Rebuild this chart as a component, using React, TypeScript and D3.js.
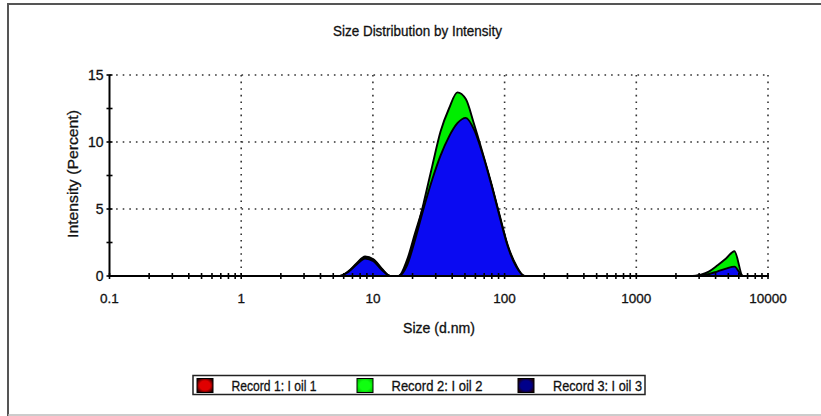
import React from "react";
import * as d3 from "d3";

// size bins (d.nm) from the instrument, only the part where anything happens
const sizes = [
  4.187, 4.849, 5.615, 6.503, 7.531, 8.721, 10.1, 11.7, 13.54, 15.69,
  18.17, 21.04, 24.36, 28.21, 32.67, 37.84, 43.82, 50.75, 58.77, 68.06,
  78.82, 91.28, 105.7, 122.4, 141.8, 164.2, 190.1, 220.2, 255.0, 295.3,
  342.0, 396.1, 458.7, 531.2, 615.1, 712.4, 825.0, 955.4, 1106, 1281,
  1484, 1718, 1990, 2305, 2669, 3091, 3580, 4145, 4801, 5560,
  6439, 7456, 8635, 10000,
];

const record1 = [
  0, 0, 0, 0.35, 0.95, 1.45, 1.25, 0.55, 0, 0,
  1.2, 3.3, 5.3, 7.3, 9.0, 10.3, 11.2, 11.5, 10.8, 9.0,
  6.9, 4.5, 2.2, 0.7, 0, 0, 0, 0, 0, 0,
  0, 0, 0, 0, 0, 0, 0, 0, 0, 0,
  0, 0, 0, 0, 0, 0.05, 0.1, 0.2, 0.35, 0.45,
  0, 0, 0, 0,
];

const record2 = [
  0, 0, 0, 0.3, 0.9, 1.4, 1.2, 0.5, 0, 0,
  0.9, 3.0, 5.5, 8.2, 10.8, 12.5, 13.7, 13.2, 11.3, 9.2,
  7.0, 4.6, 2.3, 0.8, 0, 0, 0, 0, 0, 0,
  0, 0, 0, 0, 0, 0, 0, 0, 0, 0,
  0, 0, 0, 0, 0, 0.1, 0.35, 0.8, 1.3, 1.85,
  0, 0, 0, 0,
];

const record3 = [
  0, 0, 0, 0.3, 0.85, 1.3, 1.1, 0.45, 0, 0,
  0.8, 2.8, 5.1, 7.2, 9.0, 10.4, 11.4, 11.8, 10.9, 9.1,
  6.9, 4.5, 2.2, 0.7, 0, 0, 0, 0, 0, 0,
  0, 0, 0, 0, 0, 0, 0, 0, 0, 0,
  0, 0, 0, 0, 0, 0.05, 0.15, 0.35, 0.55, 0.7,
  0, 0, 0, 0,
];

const recordNames = ["Record 1: I oil 1", "Record 2: I oil 2", "Record 3: I oil 3"];
const recordFills = ["#d40000", "#00ee00", "#0a0af2"];
const swatchInner = ["#e00000", "#10ff10", "#00008a"];

const xTicks = [0.1, 1, 10, 100, 1000, 10000];
const xTickLabels = ["0.1", "1", "10", "100", "1000", "10000"];
const yTicks = [0, 5, 10, 15];
const yMinorTicks = [2.5, 7.5, 12.5];

const font = "'Liberation Sans', Arial, sans-serif";

export default function App() {
  const width = 821;
  const height = 416;
  const x = d3.scaleLog().domain([0.1, 10000]).range([109.5, 768]);
  const y = d3.scaleLinear().domain([0, 15]).range([276, 75]);

  const area = d3
    .area<number>()
    .x((_, i) => x(sizes[i]))
    .y0(y(0))
    .y1((d) => y(d))
    .curve(d3.curveMonotoneX);

  const series = [record1, record2, record3];

  // minor ticks inside each decade
  const xMinor: number[] = [];
  for (let e = -1; e < 4; e++) {
    for (let k = 2; k <= 9; k++) xMinor.push(k * Math.pow(10, e));
  }

  const dotted = { stroke: "#333", strokeWidth: 1.6, strokeDasharray: "1.6 5" };
  const fit = { lengthAdjust: "spacingAndGlyphs" } as any;
  // the original text is a bit heavier than plain Liberation Sans
  const ink = { fill: "#111", stroke: "#111", strokeWidth: 0.3 };

  return (
    <svg
      width={width}
      height={height}
      style={{ position: "absolute", left: 0, top: 0, background: "#fff" }}
      fontFamily={font}
    >
      <defs>
        {swatchInner.map((c, i) => (
          <radialGradient id={"sw" + i} key={i} cx="50%" cy="50%" r="60%">
            <stop offset="0%" stopColor={c} />
            <stop offset="55%" stopColor={c} />
            <stop offset="100%" stopColor={i === 1 ? "#00c000" : "#200000"} />
          </radialGradient>
        ))}
      </defs>

      {/* frame */}
      <path d="M8,416 V4 H821" fill="none" stroke="#555" strokeWidth={2} />
      <line x1={8} x2={821} y1={415} y2={415} stroke="#bbb" strokeWidth={1.5} />

      <text x={333} y={35.5} fontSize={14.5} textLength={169} {...fit} {...ink}>
        Size Distribution by Intensity
      </text>

      {/* grid */}
      {yTicks.filter((t) => t > 0).map((t) => (
        <line key={"gy" + t} x1={x(0.1)} x2={x(10000)} y1={y(t)} y2={y(t)} {...dotted} />
      ))}
      {xTicks.filter((t) => t > 0.1).map((t) => (
        <line key={"gx" + t} x1={x(t)} x2={x(t)} y1={y(15)} y2={y(0)} {...dotted} />
      ))}

      {/* distributions */}
      {series.map((s, i) => (
        <path
          key={"s" + i}
          d={area(s) || ""}
          fill={recordFills[i]}
          stroke="#000"
          strokeWidth={1.9}
          strokeLinejoin="round"
        />
      ))}

      {/* axes */}
      <line x1={x(0.1)} x2={x(0.1)} y1={y(15)} y2={y(0) + 1} stroke="#000" strokeWidth={2} />
      <line x1={x(0.1)} x2={x(10000)} y1={y(0)} y2={y(0)} stroke="#000" strokeWidth={2} />
      {yTicks.concat(yMinorTicks).map((t) => (
        <line key={"ty" + t} x1={x(0.1) - 3} x2={x(0.1) + 3} y1={y(t)} y2={y(t)} stroke="#000" strokeWidth={1.6} />
      ))}
      {xTicks.concat(xMinor).map((t) => (
        <line key={"tx" + t} x1={x(t)} x2={x(t)} y1={y(0) - 3} y2={y(0) + 3} stroke="#000" strokeWidth={1.6} />
      ))}

      {yTicks.map((t) => (
        <text key={"ly" + t} x={x(0.1) - 6} y={y(t) + 5} textAnchor="end" fontSize={14} {...ink}>
          {t}
        </text>
      ))}
      {xTicks.map((t, i) => (
        <text key={"lx" + t} x={x(t)} y={303} textAnchor="middle" fontSize={13.5} {...ink}>
          {xTickLabels[i]}
        </text>
      ))}

      <text x={403} y={333} fontSize={14} textLength={72} {...fit} {...ink}>
        Size (d.nm)
      </text>
      <text
        transform="translate(78,238) rotate(-90)"
        fontSize={15}
        textLength={128}
        {...fit}
        {...ink}
      >
        Intensity (Percent)
      </text>

      {/* legend */}
      <rect x={193} y={375.5} width={452} height={19} fill="#fff" stroke="#222" strokeWidth={1.5} />
      {recordNames.map((name, i) => {
        const sx = [197, 357, 518][i];
        const tx = [231.5, 391.5, 553][i];
        const tl = [85, 91, 89][i];
        return (
          <g key={"lg" + i}>
            <rect x={sx} y={378.5} width={16} height={14} fill={`url(#sw${i})`} stroke="#000" strokeWidth={1} />
            <text x={tx} y={391} fontSize={14.5} textLength={tl} {...fit} {...ink}>
              {name}
            </text>
          </g>
        );
      })}
    </svg>
  );
}
